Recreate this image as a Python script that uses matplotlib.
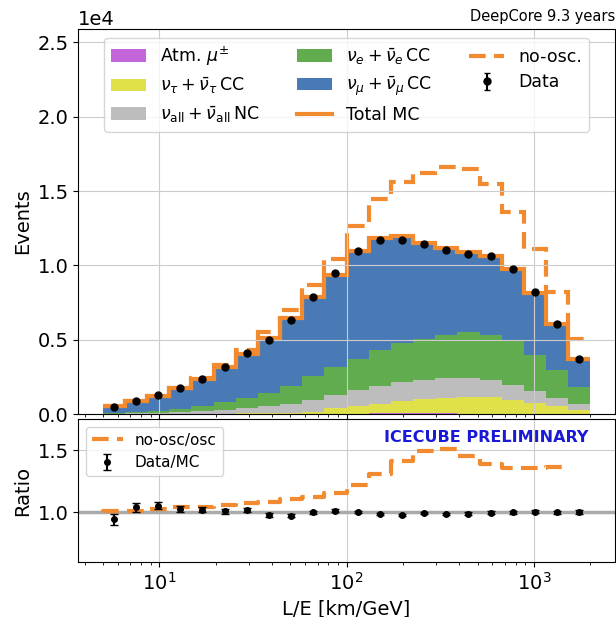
import numpy as np
import matplotlib.pyplot as plt

# L/E binning (km/GeV)
le_min, le_max, n_bins = 5.0, 2000.0, 22
edges = np.logspace(np.log10(le_min), np.log10(le_max), n_bins + 1)
centers = np.sqrt(edges[:-1] * edges[1:])

# MC components, events per bin
atm_mu = [3, 4, 5, 6, 8, 10, 12, 15, 18, 20, 25, 30, 35, 40, 40, 35, 30, 25, 20, 15, 10, 5]
nutau_cc = [2, 4, 7, 10, 14, 20, 28, 40, 62, 100, 355, 490, 655, 810, 960, 1065, 1140, 1115, 940, 725, 500, 285]
nc_all = [25, 52, 78, 114, 178, 260, 360, 455, 610, 840, 920, 1115, 1215, 1300, 1310, 1300, 1280, 1160, 1010, 780, 565, 380]
nue_cc = [50, 70, 130, 205, 310, 490, 675, 900, 1210, 1570, 1860, 2085, 2375, 2630, 2740, 2890, 3070, 3040, 2960, 2470, 1905, 1145]
numu_cc = [450, 735, 995, 1390, 1815, 2355, 2960, 3700, 4575, 5340, 6170, 7220, 7580, 7165, 6445, 5845, 5390, 5300, 4850, 4180, 3100, 1865]

# no-oscillation expectation
no_osc = [532, 872, 1230, 1775, 2415, 3280, 4280, 5490, 7000, 8690, 10450, 12640, 14440, 15620, 16230, 16600, 16450, 15460, 13590, 11090, 8240, 5030]

# observed data
data = [500, 900, 1280, 1770, 2375, 3160, 4125, 5000, 6300, 7870, 9460, 10940, 11730, 11680, 11440, 11010, 10790, 10610, 9780, 8210, 6080, 3700]

orange = '#f28a30'
colors = ['#c266d9', '#e0e04a', '#bdbdbd', '#60ac4f', '#4a7ab5']
labels = [r'Atm. $\mu^{\pm}$',
          r'$\nu_\tau + \bar{\nu}_\tau\,$CC',
          r'$\nu_{\rm all} + \bar{\nu}_{\rm all}\,$NC',
          r'$\nu_e + \bar{\nu}_e\,$CC',
          r'$\nu_\mu + \bar{\nu}_\mu\,$CC']

comps = [atm_mu, nutau_cc, nc_all, nue_cc, numu_cc]
total = np.sum(comps, axis=0)
data = np.array(data, dtype=float)
no_osc = np.array(no_osc, dtype=float)

fig = plt.figure(figsize=(6.16, 6.17), dpi=100)
ax = fig.add_axes([0.127, 0.329, 0.871, 0.624])
axr = fig.add_axes([0.127, 0.089, 0.871, 0.232], sharex=ax)

_, _, patches = ax.hist([centers] * 5, bins=edges, weights=comps, stacked=True,
                        histtype='stepfilled', color=colors, label=labels)
h_tot = ax.stairs(total, edges, baseline=None, color=orange, lw=3, label='Total MC')
h_nosc = ax.stairs(no_osc, edges, baseline=None, color=orange, lw=3, ls=(0, (4, 2)), label='no-osc.')
h_data = ax.errorbar(centers, data, yerr=np.sqrt(data), fmt='o', color='k', ms=5,
                     capsize=2, label='Data')

handles = [p[0] for p in patches] + [h_tot, h_nosc, h_data]
ax.legend(handles=handles, ncol=3, loc='upper center', fontsize=12.5, framealpha=0.8,
          columnspacing=2.2, labelspacing=0.45)

ax.set_xscale('log')
ax.set_xlim(3.7, 2700)
ax.set_ylim(0, 2.59e4)
ax.ticklabel_format(axis='y', style='sci', scilimits=(0, 0))
ax.yaxis.get_offset_text().set_fontsize(14)
ax.set_ylabel('Events', fontsize=14)
ax.tick_params(labelsize=14)
ax.tick_params(axis='x', labelbottom=False)
ax.grid(True, color='#cccccc')
ax.set_title('DeepCore 9.3 years', loc='right', fontsize=10.5)

# ratio panel
axr.axhline(1.0, color='#aaaaaa', lw=2.5)
axr.step(edges[:-1], no_osc / total, where='pre', color=orange, lw=3, ls=(0, (4, 2)),
         label='no-osc/osc')
axr.errorbar(centers, data / total, yerr=np.sqrt(data) / total, fmt='o', color='k', ms=4,
             capsize=3, label='Data/MC')
axr.legend(loc='upper left', fontsize=11, framealpha=0.8)
axr.text(0.95, 0.925, 'ICECUBE PRELIMINARY', transform=axr.transAxes, ha='right', va='top',
         color='#1a1ad6', fontsize=11.5, fontweight='bold')
axr.set_ylim(0.6, 1.75)
axr.set_yticks([1.0, 1.5])
axr.set_ylabel('Ratio', fontsize=14)
axr.set_xlabel('L/E [km/GeV]', fontsize=14)
axr.tick_params(labelsize=14)
axr.grid(True, color='#cccccc')

fig.align_ylabels([ax, axr])
fig.savefig('out.png', dpi=100)
